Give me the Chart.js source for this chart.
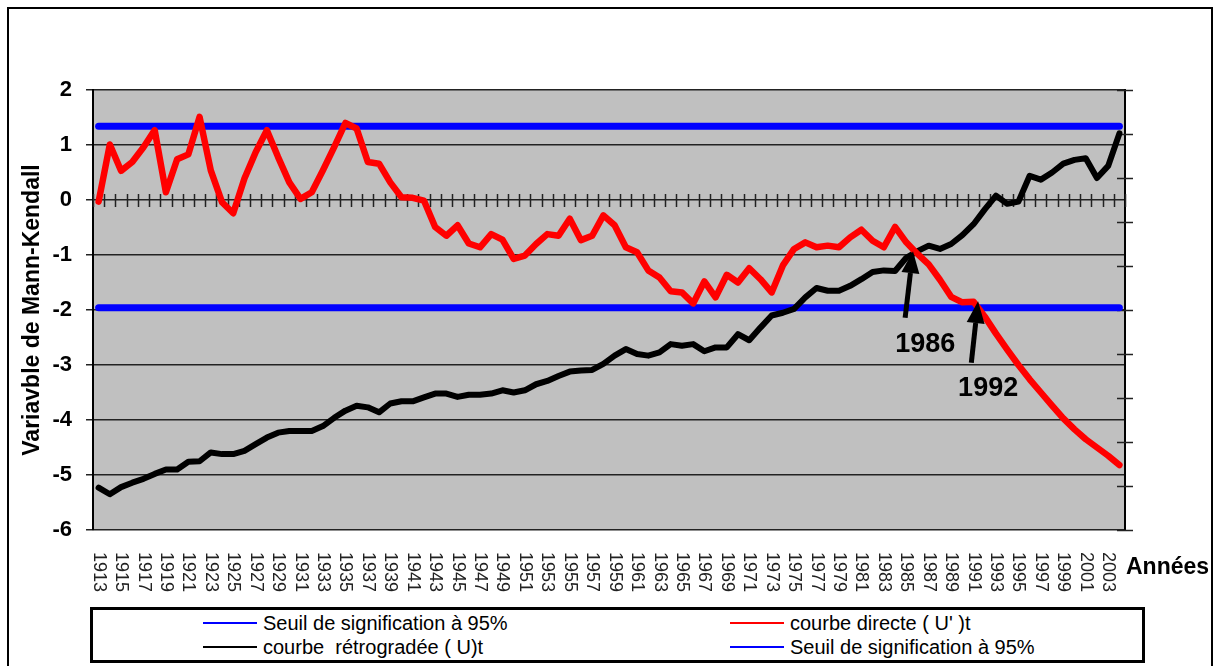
<!DOCTYPE html>
<html lang="fr">
<head>
<meta charset="utf-8">
<title>Test de Mann-Kendall</title>
<script src="https://cdn.jsdelivr.net/npm/chart.js@4.4.1/dist/chart.umd.min.js"></script>
<style>
    html, body { margin: 0; padding: 0; background: #fff; overflow: hidden; }
    #cadre { position: absolute; left: 7px; top: 7px; width: 1206px; height: 700px; border: 2px solid #000; box-sizing: border-box; }
    #graphique { position: absolute; left: 0; top: 0; }
    #legende {
        position: absolute; left: 90px; top: 607px; width: 1055px; height: 56px;
        border: 3px solid #000; box-sizing: border-box; background: #fff;
        display: grid; grid-template-columns: 527px auto; grid-auto-rows: 24px;
        padding: 1px 0 0 110px;
        font: 20px "Liberation Sans", Arial, sans-serif; color: #000;
    }
    #legende .item { display: flex; align-items: center; white-space: pre; }
    #legende .trait { width: 54px; height: 2px; margin-right: 6px; }
</style>
</head>
<body>
<div id="cadre"></div>
<canvas id="graphique" width="1218" height="666"></canvas>
<div id="legende"></div>
<script>
(function (window, document) {
    'use strict';

    // annees 1913 -> 2004
    var premiereAnnee = 1913;
    var derniereAnnee = 2004;
    var annees = [];
    for (var a = premiereAnnee; a <= derniereAnnee; a++) annees.push(String(a));

    // courbe directe U'(t)
    var courbeDirecte = [
        -0.03, 1.01, 0.53, 0.69, 0.96, 1.27, 0.14, 0.74, 0.83, 1.51,
        0.54, -0.04, -0.24, 0.39, 0.87, 1.27, 0.78, 0.32, 0.02, 0.14,
        0.54, 0.96, 1.40, 1.30, 0.69, 0.66, 0.32, 0.05, 0.04, -0.01,
        -0.49, -0.65, -0.46, -0.79, -0.86, -0.62, -0.72, -1.07, -1.01, -0.80,
        -0.62, -0.65, -0.34, -0.73, -0.65, -0.28, -0.46, -0.86, -0.95, -1.28,
        -1.41, -1.66, -1.68, -1.88, -1.48, -1.77, -1.36, -1.50, -1.24, -1.44,
        -1.68, -1.19, -0.89, -0.77, -0.86, -0.83, -0.86, -0.68, -0.54, -0.74,
        -0.86, -0.49, -0.77, -0.98, -1.17, -1.45, -1.76, -1.86, -1.85, -2.12,
        -2.43, -2.72, -3.00, -3.26, -3.50, -3.74, -3.97, -4.17, -4.35, -4.50,
        -4.65, -4.82
    ];

    // courbe retrogradee U(t)
    var courbeRetrogradee = [
        -5.23, -5.35, -5.22, -5.14, -5.07, -4.98, -4.90, -4.90, -4.76, -4.75,
        -4.59, -4.62, -4.62, -4.56, -4.44, -4.32, -4.23, -4.20, -4.20, -4.20,
        -4.11, -3.96, -3.83, -3.74, -3.77, -3.86, -3.70, -3.66, -3.66, -3.59,
        -3.52, -3.52, -3.58, -3.54, -3.54, -3.52, -3.46, -3.50, -3.46, -3.35,
        -3.29, -3.20, -3.12, -3.10, -3.09, -2.98, -2.83, -2.71, -2.80, -2.83,
        -2.77, -2.62, -2.65, -2.62, -2.75, -2.68, -2.68, -2.44, -2.55, -2.32,
        -2.10, -2.05, -1.98, -1.77, -1.60, -1.65, -1.65, -1.56, -1.44, -1.31,
        -1.28, -1.29, -1.05, -0.93, -0.83, -0.89, -0.80, -0.64, -0.44, -0.17,
        0.08, -0.07, -0.03, 0.44, 0.37, 0.50, 0.66, 0.73, 0.76, 0.40,
        0.62, 1.21
    ];

    // seuils de signification a 95%
    var seuilHaut = 1.34;
    var seuilBas = -1.96;

    // reperes (index annee, valeur)
    var reperes = [
        { texte: '1986', pointe: [72.6, -0.93], queue: [71.9, -2.14], etiquette: [73.7, -2.62] },
        { texte: '1992', pointe: [78.4, -1.84], queue: [77.8, -2.96], etiquette: [79.3, -3.42] }
    ];

    var police = '"Liberation Sans", Arial, sans-serif';

    var fondGris = {
        id: 'fondGris',
        beforeDraw: function (chart) {
            var ctx = chart.ctx, a = chart.chartArea;
            ctx.save();
            ctx.fillStyle = '#c0c0c0';
            ctx.fillRect(a.left, a.top, a.right - a.left, a.bottom - a.top);
            ctx.restore();
        }
    };

    // graduations sur l'axe zero + axe droit
    var graduations = {
        id: 'graduations',
        beforeDatasetsDraw: function (chart) {
            var ctx = chart.ctx;
            var x = chart.scales.x, y = chart.scales.y, y2 = chart.scales.y2;
            var y0 = y.getPixelForValue(0);
            ctx.save();
            ctx.strokeStyle = '#222';
            ctx.lineWidth = 1.5;
            ctx.beginPath();
            for (var i = 0; i <= annees.length; i++) {
                var px = Math.round(x.getPixelForValue(i - 0.5)) + 0.5;
                ctx.moveTo(px, y0 - 6);
                ctx.lineTo(px, y0 + 7);
            }
            for (var v = 0; v <= 10; v++) {
                var py = Math.round(y2.getPixelForValue(v)) + 0.5;
                ctx.moveTo(y2.left - 8, py);
                ctx.lineTo(y2.left + 8, py);
            }
            ctx.stroke();
            ctx.restore();
        },
        afterDatasetsDraw: function (chart) {
            var ctx = chart.ctx;
            var x = chart.scales.x, y = chart.scales.y;
            ctx.save();
            reperes.forEach(function (r) {
                var x1 = x.getPixelForValue(r.queue[0]), y1 = y.getPixelForValue(r.queue[1]);
                var x2 = x.getPixelForValue(r.pointe[0]), y2 = y.getPixelForValue(r.pointe[1]);
                var ang = Math.atan2(y2 - y1, x2 - x1);
                var lg = 22, lr = 9;
                var bx = x2 - lg * Math.cos(ang), by = y2 - lg * Math.sin(ang);
                ctx.strokeStyle = '#000';
                ctx.lineWidth = 5;
                ctx.beginPath();
                ctx.moveTo(x1, y1);
                ctx.lineTo(bx, by);
                ctx.stroke();
                ctx.fillStyle = '#000';
                ctx.beginPath();
                ctx.moveTo(x2, y2);
                ctx.lineTo(bx + lr * Math.sin(ang), by - lr * Math.cos(ang));
                ctx.lineTo(bx - lr * Math.sin(ang), by + lr * Math.cos(ang));
                ctx.closePath();
                ctx.fill();
                ctx.font = 'bold 27px ' + police;
                ctx.textAlign = 'center';
                ctx.textBaseline = 'middle';
                ctx.fillText(r.texte, x.getPixelForValue(r.etiquette[0]), y.getPixelForValue(r.etiquette[1]));
            });
            ctx.restore();
        },
        afterDraw: function (chart) {
            var ctx = chart.ctx;
            var x = chart.scales.x, a = chart.chartArea;
            ctx.save();
            ctx.fillStyle = '#222';
            ctx.font = '18px ' + police;
            ctx.textAlign = 'left';
            ctx.textBaseline = 'middle';
            for (var i = 0; i < annees.length; i += 2) {
                ctx.save();
                ctx.translate(x.getPixelForValue(i), a.bottom + 22);
                ctx.rotate(Math.PI / 2);
                ctx.fillText(annees[i], 0, 0);
                ctx.restore();
            }
            ctx.fillStyle = '#000';
            ctx.font = 'bold 23px ' + police;
            ctx.fillText('Années', a.right + 1, a.bottom + 38);
            ctx.restore();
        }
    };

    var $canvas = document.getElementById('graphique');
    var graphique = new Chart($canvas, {
        type: 'line',
        data: {
            labels: annees,
            datasets: [{
                label: 'Seuil de signification à 95%',
                data: annees.map(function () { return seuilHaut; }),
                borderColor: '#0000ff',
                borderWidth: 7,
                order: 2
            }, {
                label: 'courbe directe ( U\' )t',
                data: courbeDirecte,
                borderColor: '#ff0000',
                borderWidth: 6.5,
                order: 0
            }, {
                label: 'courbe  rétrogradée ( U)t',
                data: courbeRetrogradee,
                borderColor: '#000000',
                borderWidth: 6,
                order: 1
            }, {
                label: 'Seuil de signification à 95%',
                data: annees.map(function () { return seuilBas; }),
                borderColor: '#0000ff',
                borderWidth: 7,
                order: 2
            }]
        },
        options: {
            responsive: false,
            animation: false,
            layout: { padding: { top: 90 } },
            elements: {
                point: { radius: 0 },
                line: { tension: 0, fill: false, borderJoinStyle: 'round', borderCapStyle: 'round' }
            },
            plugins: {
                legend: { display: false },
                tooltip: { enabled: false }
            },
            scales: {
                x: {
                    type: 'category',
                    offset: true,
                    grid: { display: false },
                    border: { display: false },
                    ticks: { display: false },
                    afterFit: function (s) { s.height = 136; }
                },
                y: {
                    min: -6,
                    max: 2,
                    ticks: {
                        stepSize: 1,
                        color: '#000',
                        padding: 14,
                        font: { family: police, size: 22, weight: 'bold' }
                    },
                    grid: { color: '#222', lineWidth: 1.5, tickLength: 7 },
                    border: { color: '#000', width: 2 },
                    title: {
                        display: true,
                        text: 'Variavble de Mann-Kendall',
                        color: '#000',
                        padding: { top: 19 },
                        font: { family: police, size: 23, weight: 'bold' }
                    },
                    afterFit: function (s) { s.width = 93; }
                },
                y2: {
                    position: 'right',
                    min: 0,
                    max: 10,
                    ticks: { display: false },
                    grid: { display: false },
                    border: { display: true, color: '#000', width: 2 },
                    afterFit: function (s) { s.width = 93; }
                }
            }
        },
        plugins: [fondGris, graduations]
    });

    // legende HTML en 2 colonnes
    var $legende = document.getElementById('legende');
    graphique.data.datasets.forEach(function (ds) {
        var $item = document.createElement('div');
        $item.className = 'item';
        var $trait = document.createElement('span');
        $trait.className = 'trait';
        $trait.style.background = ds.borderColor;
        var $texte = document.createElement('span');
        $texte.textContent = ds.label;
        $item.appendChild($trait);
        $item.appendChild($texte);
        $legende.appendChild($item);
    });
})(window, document);
</script>
</body>
</html>
